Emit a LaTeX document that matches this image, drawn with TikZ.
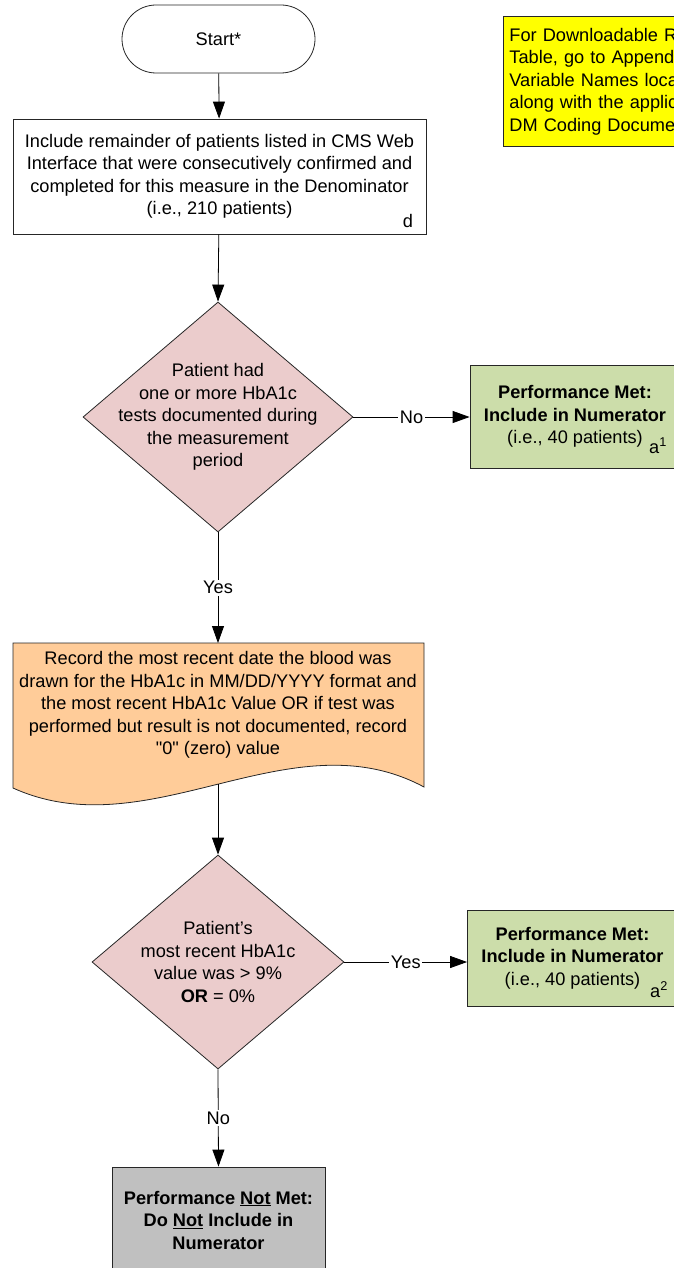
\documentclass[tikz,border=0pt]{standalone}
\usepackage{fontspec}
\setmainfont{Liberation Sans}
\usetikzlibrary{shapes.geometric,arrows.meta}
\definecolor{pinkd}{RGB}{235,204,204}
\definecolor{greenb}{RGB}{204,221,170}
\definecolor{orangeb}{RGB}{255,204,153}
\definecolor{grayb}{RGB}{192,192,192}
\definecolor{yellowb}{RGB}{255,255,0}
\begin{document}
\begin{tikzpicture}[x=1pt,y=-1pt,
  every node/.style={font=\fontsize{18.2}{22.5}\selectfont, align=center, inner sep=0pt},
  shp/.style={draw=black!85, line width=0.8pt},
  conn/.style={draw=black, line width=0.8pt},
  arr/.style={conn, -{Triangle[length=17pt,width=12pt]}},
  lbl/.style={fill=white, inner sep=1.5pt},
  decision/.style={shp, diamond, fill=pinkd, inner sep=-30pt},
  result/.style={shp, fill=greenb, minimum width=210pt}
]
\useasboundingbox (0,0) rectangle (674,1268);

% yellow note
\node[shp, fill=yellowb, anchor=north west, minimum height=130pt, text width=300pt,
      inner xsep=6pt, align=left] (note) at (503,16)
  {For Downloadable Resource\\Table, go to Appendix for\\Variable Names located\\along with the applicable\\DM Coding Document};

% start
\node[shp, rounded corners=34pt, minimum width=193pt, minimum height=68pt] (start) at (218.5,39) {Start*};

% first process box
\node[shp, minimum width=413pt, minimum height=115pt] (inc) at (219.5,176.5)
  {Include remainder of patients listed in CMS Web\\Interface that were consecutively confirmed and\\completed for this measure in the Denominator\\(i.e., 210 patients)};
\node (d) at (408,221) {d};

% decision 1
\node[decision, minimum width=270pt, minimum height=230pt] (q1) at (218,417)
  {Patient had\\one or more HbA1c\\tests documented during\\the measurement\\period};

% result 1
\node[result, minimum height=103pt] (met1) at (575,416.5)
  {\textbf{Performance Met:}\\\textbf{Include in Numerator}\\(i.e., 40 patients)};
\node[anchor=base west] (a1) at (649,453) {a\textsuperscript{1}};

% document shape (record)
\coordinate (rectop) at (218,643);
\coordinate (recbot) at (218,784);
\path[shp, fill=orangeb] (13,643) -- (424,643) -- (424,787)
  .. controls (290,715) and (150,850) .. (13,788) -- cycle;
\node (rec) at (218,705)
  {Record the most recent date the blood was\\drawn for the HbA1c in MM/DD/YYYY format and\\the most recent HbA1c Value OR if test was\\performed but result is not documented, record\\\textquotedbl 0\textquotedbl{} (zero) value};

% decision 2
\node[decision, minimum width=252pt, minimum height=214pt] (q2) at (218,962)
  {Patient’s\\most recent HbA1c\\value was > 9\%\\\textbf{OR} = 0\%};

% result 2
\node[result, minimum height=96pt] (met2) at (572.5,958)
  {\textbf{Performance Met:}\\\textbf{Include in Numerator}\\(i.e., 40 patients)};
\node[anchor=base west] (a2) at (650,997) {a\textsuperscript{2}};

% not met
\node[shp, fill=grayb, minimum width=213pt, minimum height=106pt] (notmet) at (218.5,1220)
  {\textbf{Performance \underline{Not} Met:}\\\textbf{Do \underline{Not} Include in}\\\textbf{Numerator}};

% connectors
\draw[arr] (start) -- (inc);
\draw[arr] (inc) -- (q1.north);
\draw[arr] (q1.east) -- node[lbl] {No} (q1.east -| met1.west);
\draw[arr] (q1.south) -- node[lbl] {Yes} (rectop);
\draw[arr] (recbot) -- (q2.north);
\draw[arr] (q2.east) -- node[lbl] {Yes} (q2.east -| met2.west);
\draw[arr] (q2.south) -- node[lbl] {No} (notmet.north);
\end{tikzpicture}
\end{document}
